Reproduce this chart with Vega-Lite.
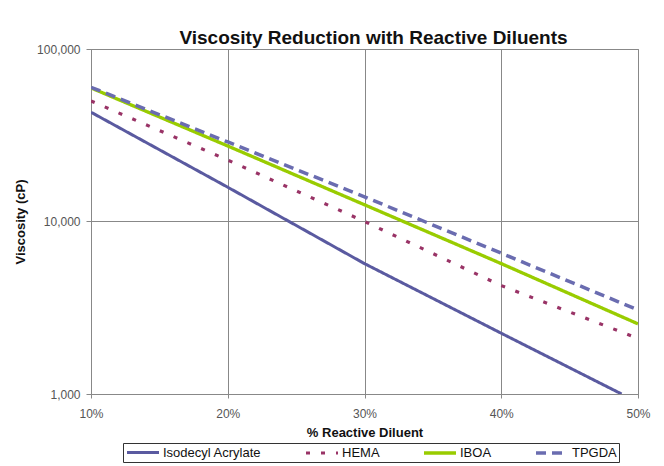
{
  "$schema": "https://vega.github.io/schema/vega-lite/v6.json",
  "width": 547,
  "height": 345,
  "autosize": {"type": "none"},
  "padding": {"left": 91, "top": 49, "right": 26, "bottom": 72},
  "background": "white",
  "title": {
    "text": "Viscosity Reduction with Reactive Diluents",
    "font": "Liberation Sans",
    "fontSize": 19,
    "fontWeight": "bold",
    "color": "#111111",
    "anchor": "middle",
    "dx": 9,
    "offset": -5
  },
  "data": {
    "values": [
      {"series": "Isodecyl Acrylate", "pct": 10, "visc": 43000},
      {"series": "Isodecyl Acrylate", "pct": 20, "visc": 15800},
      {"series": "Isodecyl Acrylate", "pct": 30, "visc": 5700},
      {"series": "Isodecyl Acrylate", "pct": 40, "visc": 2250},
      {"series": "Isodecyl Acrylate", "pct": 48.8, "visc": 1000},
      {"series": "HEMA", "pct": 10, "visc": 50000},
      {"series": "HEMA", "pct": 20, "visc": 22700},
      {"series": "HEMA", "pct": 30, "visc": 10000},
      {"series": "HEMA", "pct": 40, "visc": 4250},
      {"series": "HEMA", "pct": 50, "visc": 2100},
      {"series": "IBOA", "pct": 10, "visc": 59500},
      {"series": "IBOA", "pct": 20, "visc": 27400},
      {"series": "IBOA", "pct": 30, "visc": 12500},
      {"series": "IBOA", "pct": 40, "visc": 5700},
      {"series": "IBOA", "pct": 50, "visc": 2550},
      {"series": "TPGDA", "pct": 10, "visc": 60000},
      {"series": "TPGDA", "pct": 20, "visc": 28900},
      {"series": "TPGDA", "pct": 30, "visc": 13900},
      {"series": "TPGDA", "pct": 40, "visc": 6550},
      {"series": "TPGDA", "pct": 50, "visc": 3070}
    ]
  },
  "mark": {"type": "line", "clip": true},
  "encoding": {
    "x": {
      "field": "pct",
      "type": "quantitative",
      "scale": {"domain": [10, 50], "nice": false},
      "axis": {
        "values": [10, 20, 30, 40, 50],
        "labelExpr": "datum.value + '%'",
        "labelFlush": false,
        "title": "% Reactive Diluent",
        "titleFont": "Liberation Sans",
        "titleFontSize": 13,
        "titleFontWeight": "bold",
        "titleColor": "#111111",
        "titlePadding": 7,
        "labelFont": "Liberation Sans",
        "labelFontSize": 12,
        "labelColor": "#555555",
        "labelPadding": 10,
        "grid": true,
        "gridColor": "#888888",
        "gridWidth": 1,
        "domainColor": "#888888",
        "tickColor": "#888888",
        "tickSize": 4
      }
    },
    "y": {
      "field": "visc",
      "type": "quantitative",
      "scale": {"type": "log", "domain": [1000, 100000], "nice": false},
      "axis": {
        "values": [1000, 10000, 100000],
        "format": ",",
        "title": "Viscosity (cP)",
        "titleFont": "Liberation Sans",
        "titleFontSize": 13,
        "titleFontWeight": "bold",
        "titleColor": "#111111",
        "titlePadding": 9,
        "labelFont": "Liberation Sans",
        "labelFontSize": 12,
        "labelColor": "#555555",
        "labelPadding": 6,
        "grid": true,
        "gridColor": "#888888",
        "gridWidth": 1,
        "domainColor": "#888888",
        "tickColor": "#888888",
        "tickSize": 5
      }
    },
    "color": {
      "field": "series",
      "type": "nominal",
      "sort": ["Isodecyl Acrylate", "HEMA", "IBOA", "TPGDA"],
      "scale": {
        "domain": ["Isodecyl Acrylate", "HEMA", "IBOA", "TPGDA"],
        "range": ["#5a5aa0", "#993366", "#99cc00", "#6a6cb0"]
      },
      "legend": {
        "title": null,
        "orient": "none",
        "legendX": 32,
        "legendY": 394,
        "direction": "horizontal",
        "columns": 4,
        "gridAlign": "none",
        "columnPadding": 37,
        "symbolType": "M-1,0H4.333",
        "symbolSize": 144,
        "symbolStrokeWidth": 2.5,
        "labelFont": "Liberation Sans",
        "labelFontSize": 13,
        "labelColor": "#111111",
        "labelOffset": 22,
        "strokeColor": "#333333",
        "padding": 2
      }
    },
    "strokeDash": {
      "field": "series",
      "type": "nominal",
      "sort": ["Isodecyl Acrylate", "HEMA", "IBOA", "TPGDA"],
      "scale": {
        "domain": ["Isodecyl Acrylate", "HEMA", "IBOA", "TPGDA"],
        "range": [[1, 0], [4, 11], [1, 0], [10, 6]]
      },
      "legend": {
        "title": null,
        "orient": "none",
        "legendX": 32,
        "legendY": 394,
        "direction": "horizontal",
        "columns": 4,
        "gridAlign": "none",
        "columnPadding": 37,
        "symbolType": "M-1,0H4.333",
        "symbolSize": 144,
        "symbolStrokeWidth": 2.5,
        "labelFont": "Liberation Sans",
        "labelFontSize": 13,
        "labelColor": "#111111",
        "labelOffset": 22,
        "strokeColor": "#333333",
        "padding": 2
      }
    },
    "strokeWidth": {
      "field": "series",
      "type": "nominal",
      "scale": {
        "domain": ["Isodecyl Acrylate", "HEMA", "IBOA", "TPGDA"],
        "range": [3, 3.5, 2, 2]
      },
      "legend": null
    }
  },
  "config": {
    "view": {"stroke": "#888888", "strokeWidth": 1}
  }
}
